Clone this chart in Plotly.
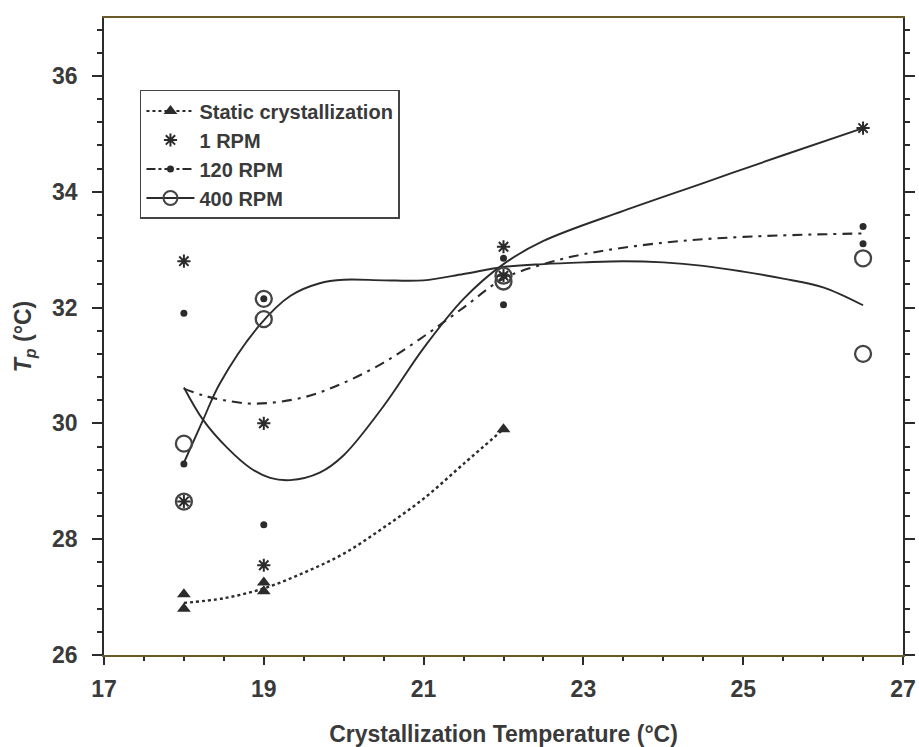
import plotly.graph_objects as go

# ---- data ----
static_x = [18, 18, 19, 19, 22]
static_y = [27.05, 26.8, 27.25, 27.1, 29.9]

rpm1_x = [18, 18, 19, 19, 22, 22, 26.5]
rpm1_y = [32.8, 28.65, 30.0, 27.55, 33.05, 32.55, 35.1]

rpm120_x = [18, 18, 19, 19, 22, 22, 26.5, 26.5]
rpm120_y = [31.9, 29.3, 28.25, 32.15, 32.85, 32.05, 33.4, 33.1]

rpm400_x = [18, 18, 19, 19, 22, 22, 26.5, 26.5]
rpm400_y = [29.65, 28.65, 32.15, 31.8, 32.55, 32.45, 32.85, 31.2]

# fitted curves
static_cx = [18, 18.5, 19, 19.5, 20, 20.5, 21, 21.5, 22]
static_cy = [26.9, 26.98, 27.15, 27.42, 27.75, 28.2, 28.7, 29.3, 29.9]

rpm1_cx = [18, 18.24, 18.54, 18.83, 19.08, 19.33, 19.7, 20, 20.5, 21, 21.5, 22, 22.5, 23.5, 24.5, 25.5, 26.5]
rpm1_cy = [30.62, 30.06, 29.58, 29.23, 29.06, 29.02, 29.15, 29.45, 30.3, 31.3, 32.15, 32.75, 33.15, 33.67, 34.15, 34.63, 35.1]

rpm120_cx = [18, 18.25, 18.5, 18.9, 19.5, 20, 20.5, 21, 21.5, 22, 22.5, 23, 24, 25, 26.5]
rpm120_cy = [30.6, 30.48, 30.4, 30.34, 30.45, 30.7, 31.05, 31.5, 32.0, 32.5, 32.75, 32.92, 33.12, 33.22, 33.28]

rpm400_cx = [18, 18.24, 18.45, 18.95, 19.33, 19.7, 20, 20.5, 21, 21.5, 22, 22.5, 23, 23.5, 24, 24.5, 25, 25.5, 26, 26.5]
rpm400_cy = [29.32, 30.06, 30.69, 31.7, 32.2, 32.42, 32.48, 32.47, 32.47, 32.58, 32.7, 32.75, 32.78, 32.8, 32.78, 32.72, 32.62, 32.5, 32.35, 32.04]

labels = ["Static crystallization", "1 RPM", "120 RPM", "400 RPM"]

x_ticks = [17, 19, 21, 23, 25, 27]
y_ticks = [26, 28, 30, 32, 34, 36]

INK = "#2b2b2b"
TXT = "#3a3a3a"
FONT = "Liberation Sans"

fig = go.Figure()

# curves
curve_style = dict(mode="lines", line_shape="spline", showlegend=False, hoverinfo="skip")
fig.add_trace(go.Scatter(x=static_cx, y=static_cy, line=dict(color=INK, width=2.4, dash="dot"), **curve_style))
fig.add_trace(go.Scatter(x=rpm1_cx, y=rpm1_cy, line=dict(color=INK, width=1.9), **curve_style))
fig.add_trace(go.Scatter(x=rpm120_cx, y=rpm120_cy, line=dict(color=INK, width=2.1, dash="10px,6px,3px,6px"), **curve_style))
fig.add_trace(go.Scatter(x=rpm400_cx, y=rpm400_cy, line=dict(color=INK, width=1.9), **curve_style))

# markers
m_static = dict(symbol="triangle-up", size=12, color=INK)
m_1 = dict(symbol="asterisk-open", size=11, color=INK, line=dict(color=INK, width=2))
m_120 = dict(symbol="circle", size=7, color=INK)
m_400 = dict(symbol="circle-open", size=16, color="#444444", line=dict(color="#444444", width=2.3))

fig.add_trace(go.Scatter(x=rpm400_x, y=rpm400_y, mode="markers", marker=m_400, showlegend=False))
fig.add_trace(go.Scatter(x=static_x, y=static_y, mode="markers", marker=m_static, showlegend=False))
fig.add_trace(go.Scatter(x=rpm1_x, y=rpm1_y, mode="markers", marker=m_1, showlegend=False))
fig.add_trace(go.Scatter(x=rpm120_x, y=rpm120_y, mode="markers", marker=m_120, showlegend=False))

# legend-only entries
fig.add_trace(go.Scatter(x=[None], y=[None], mode="lines+markers", name=labels[0],
                         marker=m_static, line=dict(color=INK, width=2, dash="dot")))
fig.add_trace(go.Scatter(x=[None], y=[None], mode="markers", name=labels[1], marker=m_1))
fig.add_trace(go.Scatter(x=[None], y=[None], mode="lines+markers", name=labels[2],
                         marker=m_120, line=dict(color=INK, width=2, dash="dashdot")))
fig.add_trace(go.Scatter(x=[None], y=[None], mode="lines+markers", name=labels[3],
                         marker=dict(symbol="circle-open", size=14, color="#444444",
                                     line=dict(color="#444444", width=2)),
                         line=dict(color=INK, width=1.8)))

tickfont = dict(family=FONT, size=23, color=TXT, weight="bold")
titlefont = dict(family=FONT, size=23, color=TXT, weight="bold")

fig.update_layout(
    width=919, height=747,
    margin=dict(l=104, r=16, t=18, b=92),
    paper_bgcolor="white", plot_bgcolor="white",
    showlegend=True,
    legend=dict(x=0.045, y=0.887, xanchor="left", yanchor="top",
                bgcolor="white", bordercolor="#444444", borderwidth=1.5,
                font=dict(family=FONT, size=20, color=TXT, weight="bold"),
                itemwidth=48, tracegroupgap=0),
    xaxis=dict(range=[17, 27], tickvals=x_ticks, ticktext=[str(v) for v in x_ticks],
               showgrid=False, zeroline=False, automargin=False,
               showline=True, linecolor="#6b5a2a", linewidth=2, mirror=True,
               ticks="outside", ticklen=8, tickwidth=1.5, tickcolor=INK,
               ticklabelstandoff=4,
               minor=dict(dtick=0.5, tick0=17, ticks="outside", ticklen=4, tickcolor=INK, showgrid=False),
               tickfont=tickfont,
               title=dict(text="Crystallization Temperature (°C)", standoff=26, font=titlefont)),
    yaxis=dict(range=[26, 37], tickvals=y_ticks, ticktext=[str(v) for v in y_ticks],
               showgrid=False, zeroline=False, automargin=False,
               showline=True, linecolor=INK, linewidth=1.8, mirror="ticks",
               ticks="outside", ticklen=10, tickwidth=1.5, tickcolor=INK,
               ticklabelstandoff=10,
               minor=dict(dtick=0.4, tick0=26, ticks="outside", ticklen=5, tickcolor=INK, showgrid=False),
               tickfont=tickfont,
               title=dict(text="<i>T</i><sub><i>p</i></sub> (°C)", standoff=14, font=titlefont)),
)

fig.write_html("out.html")
